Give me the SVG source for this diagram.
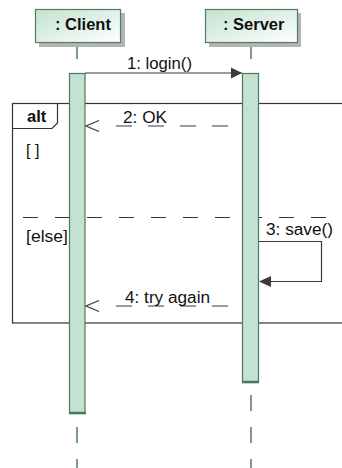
<svg xmlns="http://www.w3.org/2000/svg" width="342" height="468" viewBox="0 0 342 468">
<defs>
<linearGradient id="boxg" x1="0" y1="0" x2="1" y2="1">
<stop offset="0" stop-color="#c3e2cf"/>
<stop offset="1" stop-color="#ffffff"/>
</linearGradient>
<marker id="filled" markerWidth="12" markerHeight="12" refX="11" refY="6" orient="auto" markerUnits="userSpaceOnUse">
<path d="M0,0.5 L11,6 L0,11.5 Z" fill="#3a3a3a"/>
</marker>
</defs>
<style>
.title{font-family:"Liberation Sans",Arial,sans-serif;font-weight:bold;font-size:16.5px;fill:#111}
.lbl{font-family:"Liberation Sans",Arial,sans-serif;font-size:16px;fill:#111}
.bold{font-family:"Liberation Sans",Arial,sans-serif;font-weight:bold;font-size:16.5px;fill:#111}
.box{fill:url(#boxg);stroke:#4f7d63;stroke-width:1.2}
.shadow{fill:#b4b4b4}
.life{stroke:#5b8069;stroke-width:1.6;stroke-dasharray:16 16;fill:none}
.act{fill:#c3e2d2;stroke:#4a7a5e;stroke-width:1.2}
.msg{stroke:#3a3a3a;stroke-width:1.2;fill:none}
.ret{stroke:#3a3a3a;stroke-width:1.2;fill:none;stroke-dasharray:16 16}
.frame{stroke:#333;stroke-width:1.2;fill:none}
</style>

<g id="lifelines">
<line class="life" x1="77" y1="43" x2="77" y2="468"/>
<line class="life" x1="251" y1="43" x2="251" y2="468"/>
</g>

<g id="client">
<rect class="shadow" x="39" y="13" width="86" height="34"/>
<rect class="box" x="35.5" y="9.5" width="85" height="33"/>
<text class="title" x="55" y="30">: Client</text>
</g>

<g id="server">
<rect class="shadow" x="209" y="13" width="92" height="34"/>
<rect class="box" x="205.5" y="9.5" width="92" height="33"/>
<text class="title" x="223" y="30">: Server</text>
</g>

<g id="alt-frame">
<rect class="frame" x="12.5" y="103.5" width="340" height="219.5"/>
<path class="frame" d="M12.5,103.5 H57.5 V123 L52,128.5 H12.5" fill="#fff"/>
<text class="bold" x="27" y="122">alt</text>
<text class="lbl" x="26" y="156">[ ]</text>
<line class="frame" x1="23" y1="217.5" x2="326" y2="217.5" style="stroke-dasharray:15 17"/>
<text class="lbl" x="26" y="242" textLength="42" lengthAdjust="spacingAndGlyphs">[else]</text>
</g>

<g id="client-activation">
<rect class="act" x="69.5" y="73.5" width="15.5" height="340"/>
<line x1="69" y1="413" x2="86" y2="413" stroke="#4a7a5e" stroke-width="2.5"/>
</g>

<g id="server-activation">
<rect class="act" x="242.5" y="73.5" width="16" height="309"/>
<line x1="242" y1="382" x2="259" y2="382" stroke="#4a7a5e" stroke-width="2.5"/>
</g>

<g id="connectors">
<line class="msg" x1="85" y1="73" x2="242" y2="73" marker-end="url(#filled)"/>
<text class="lbl" x="127" y="69" textLength="65" lengthAdjust="spacingAndGlyphs">1: login()</text>

<line class="ret" x1="228" y1="126" x2="101" y2="126"/>
<polyline class="msg" points="99,120.5 86,126 99,131.5"/>
<text class="lbl" x="123" y="123" textLength="44" lengthAdjust="spacingAndGlyphs">2: OK</text>

<polyline class="msg" points="259,241.5 321.5,241.5 321.5,281.5 270,281.5"/>
<path d="M271,276 L259,281.5 L271,287 Z" fill="#3a3a3a"/>
<text class="lbl" x="266" y="235" textLength="67" lengthAdjust="spacingAndGlyphs">3: save()</text>

<line class="ret" x1="228" y1="306" x2="101" y2="306"/>
<polyline class="msg" points="99,300.5 86,306 99,311.5"/>
<text class="lbl" x="125" y="303" textLength="85" lengthAdjust="spacingAndGlyphs">4: try again</text>
</g>
</svg>
